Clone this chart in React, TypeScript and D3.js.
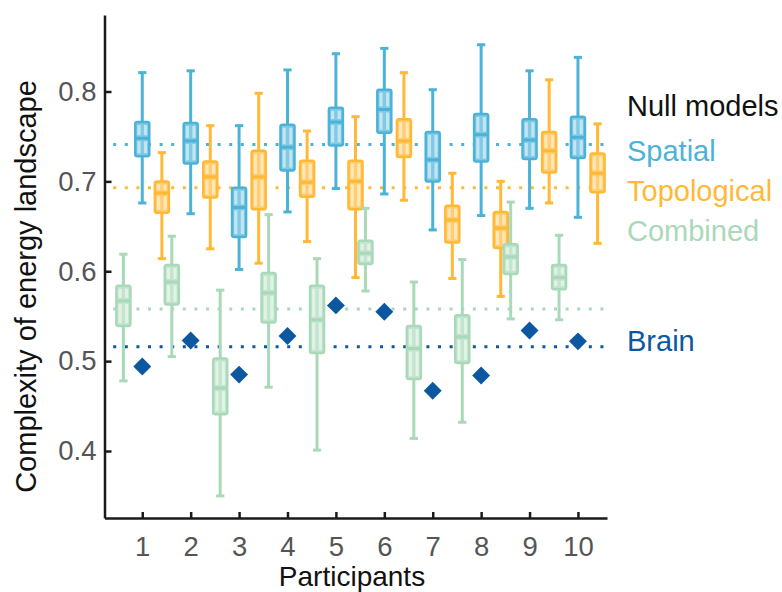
import { useEffect, useRef } from "react";
import * as d3 from "d3";

// box stats per participant: [whiskerLow, q1, median, q3, whiskerHigh]
const participants = [1, 2, 3, 4, 5, 6, 7, 8, 9, 10];

const spatial = [
  [0.676, 0.728, 0.748, 0.766, 0.821],
  [0.664, 0.72, 0.745, 0.765, 0.823],
  [0.602, 0.638, 0.671, 0.693, 0.762],
  [0.666, 0.712, 0.738, 0.763, 0.824],
  [0.692, 0.74, 0.766, 0.782, 0.842],
  [0.686, 0.754, 0.78, 0.802, 0.848],
  [0.646, 0.7, 0.724, 0.755, 0.802],
  [0.662, 0.722, 0.752, 0.775, 0.852],
  [0.67, 0.725, 0.746, 0.769, 0.823],
  [0.66, 0.726, 0.749, 0.772, 0.838],
];

const topological = [
  [0.614, 0.665, 0.687, 0.7, 0.732],
  [0.625, 0.682, 0.705, 0.722, 0.762],
  [0.609, 0.669, 0.705, 0.734, 0.798],
  [0.633, 0.683, 0.699, 0.723, 0.756],
  [0.593, 0.669, 0.7, 0.723, 0.772],
  [0.679, 0.727, 0.745, 0.769, 0.821],
  [0.592, 0.632, 0.657, 0.673, 0.709],
  [0.572, 0.626, 0.648, 0.666, 0.7],
  [0.676, 0.71, 0.734, 0.755, 0.813],
  [0.631, 0.688, 0.709, 0.731, 0.764],
];

const combined = [
  [0.478, 0.539, 0.567, 0.584, 0.619],
  [0.505, 0.563, 0.588, 0.607, 0.639],
  [0.35, 0.441, 0.47, 0.503, 0.579],
  [0.471, 0.543, 0.576, 0.598, 0.663],
  [0.401, 0.509, 0.546, 0.584, 0.614],
  [0.578, 0.608, 0.62, 0.634, 0.67],
  [0.414, 0.48, 0.514, 0.539, 0.588],
  [0.432, 0.498, 0.527, 0.551, 0.613],
  [0.547, 0.597, 0.616, 0.63, 0.677],
  [0.546, 0.58, 0.593, 0.607, 0.64],
];

const brain = [0.494, 0.523, 0.485, 0.528, 0.562, 0.555, 0.467, 0.484, 0.534, 0.522];

const nullMeans = { spatial: 0.741, topological: 0.693, combined: 0.558, brain: 0.516 };

const yTicks = [0.4, 0.5, 0.6, 0.7, 0.8];

const colors = {
  spatial: "#4cb3d8",
  topological: "#ffb936",
  combined: "#a9d9b9",
  brain: "#0b57a0",
};

export default function App() {
  const svgRef = useRef<SVGSVGElement | null>(null);

  useEffect(() => {
    const svg = d3.select(svgRef.current);
    svg.selectAll("*").remove();

    const width = 782;
    const height = 592;
    const font = "'Liberation Sans', Arial, sans-serif";

    const x = d3.scaleLinear().domain([0.22, 10.6]).range([104.5, 607]);
    const y = d3.scaleLinear().domain([0.4, 0.8]).range([451, 91.5]);
    const yTop = 15;
    const yBottom = 518;

    const boxW = x(0.29) - x(0);
    const capW = x(0.17) - x(0);

    // reference lines
    const refs: [number, string][] = [
      [nullMeans.spatial, colors.spatial],
      [nullMeans.topological, colors.topological],
      [nullMeans.combined, colors.combined],
      [nullMeans.brain, colors.brain],
    ];
    svg
      .append("g")
      .selectAll("line")
      .data(refs)
      .join("line")
      .attr("x1", x(0.4))
      .attr("x2", x(10.55))
      .attr("y1", (d) => y(d[0]))
      .attr("y2", (d) => y(d[0]))
      .attr("stroke", (d) => d[1])
      .attr("stroke-width", 3)
      .attr("stroke-dasharray", "3 8.6");

    const drawBoxes = (data: number[][], offset: number, color: string) => {
      const g = svg.append("g");
      data.forEach((d, i) => {
        const cx = x(participants[i] + offset);
        const [lo, q1, med, q3, hi] = d;
        const bg = g.append("g");
        bg.append("line")
          .attr("x1", cx)
          .attr("x2", cx)
          .attr("y1", y(hi))
          .attr("y2", y(lo))
          .attr("stroke", color)
          .attr("stroke-width", 3);
        [lo, hi].forEach((v) => {
          bg.append("line")
            .attr("x1", cx - capW / 2)
            .attr("x2", cx + capW / 2)
            .attr("y1", y(v))
            .attr("y2", y(v))
            .attr("stroke", color)
            .attr("stroke-width", 3);
        });
        bg.append("rect")
          .attr("x", cx - boxW / 2)
          .attr("y", y(q3))
          .attr("width", boxW)
          .attr("height", y(q1) - y(q3))
          .attr("rx", 2)
          .attr("fill", d3.interpolateRgb(color, "#fff")(0.3))
          .attr("stroke", color)
          .attr("stroke-width", 2.5);
        // light stripes inside the box
        [-3.3, 3.3].forEach((dx) => {
          [
            [y(q3) + 3, y(med) - 3],
            [y(med) + 3, y(q1) - 3],
          ].forEach(([a, b]) => {
            if (b > a) {
              bg.append("rect")
                .attr("x", cx + dx - 1.6)
                .attr("y", a)
                .attr("width", 3.2)
                .attr("height", b - a)
                .attr("fill", "#fff")
                .attr("opacity", 0.5);
            }
          });
        });
        bg.append("line")
          .attr("x1", cx - boxW / 2)
          .attr("x2", cx + boxW / 2)
          .attr("y1", y(med))
          .attr("y2", y(med))
          .attr("stroke", color)
          .attr("stroke-width", 3);
      });
    };

    drawBoxes(spatial, 0, colors.spatial);
    drawBoxes(topological, 0.405, colors.topological);
    drawBoxes(combined, -0.39, colors.combined);

    // brain diamonds
    const diamond = d3.symbol().type(d3.symbolDiamond2).size(205);
    svg
      .append("g")
      .selectAll("path")
      .data(brain)
      .join("path")
      .attr("d", diamond)
      .attr("transform", (d, i) => `translate(${x(participants[i])},${y(d)})`)
      .attr("fill", colors.brain);

    // axes
    const yScaleFull = d3.scaleLinear().domain([y.invert(yBottom), y.invert(yTop)]).range([yBottom, yTop]);
    const yAxis = svg
      .append("g")
      .attr("transform", `translate(${x.range()[0]},0)`)
      .call(
        d3
          .axisLeft(yScaleFull)
          .tickValues(yTicks)
          .tickFormat(d3.format(".1f"))
          .tickSizeInner(-7)
          .tickSizeOuter(0)
          .tickPadding(8)
      );
    const xAxis = svg
      .append("g")
      .attr("transform", `translate(0,${yBottom})`)
      .call(
        d3
          .axisBottom(x)
          .tickValues(participants)
          .tickFormat(d3.format("d"))
          .tickSizeInner(-6)
          .tickSizeOuter(0)
          .tickPadding(18)
      );
    [yAxis, xAxis].forEach((a) => {
      a.select(".domain").attr("stroke", "#1a1a1a").attr("stroke-width", 2.5);
      a.selectAll(".tick line").attr("stroke", "#1a1a1a").attr("stroke-width", 2.5);
      a.selectAll(".tick text")
        .attr("fill", "#555")
        .style("font-family", font)
        .style("font-size", "27.5px");
    });

    svg
      .append("text")
      .attr("transform", `translate(36,${(yTop + yBottom) / 2 + 20}) rotate(-90)`)
      .attr("text-anchor", "middle")
      .style("font-family", font)
      .style("font-size", "29px")
      .attr("fill", "#111")
      .text("Complexity of energy landscape");

    svg
      .append("text")
      .attr("x", 352)
      .attr("y", 586)
      .attr("text-anchor", "middle")
      .style("font-family", font)
      .style("font-size", "28px")
      .attr("fill", "#111")
      .text("Participants");

    // legend
    const legend: [string, string, number][] = [
      ["Null models", "#111", 116],
      ["Spatial", colors.spatial, 161],
      ["Topological", colors.topological, 201],
      ["Combined", colors.combined, 241],
      ["Brain", colors.brain, 351],
    ];
    svg
      .append("g")
      .selectAll("text")
      .data(legend)
      .join("text")
      .attr("x", 627)
      .attr("y", (d) => d[2])
      .attr("fill", (d) => d[1])
      .style("font-family", font)
      .style("font-size", "29px")
      .text((d) => d[0]);

    svg.attr("width", width).attr("height", height);
  }, []);

  return (
    <svg
      ref={svgRef}
      width={782}
      height={592}
      style={{ position: "absolute", left: 0, top: 0, background: "#fff" }}
    ></svg>
  );
}
